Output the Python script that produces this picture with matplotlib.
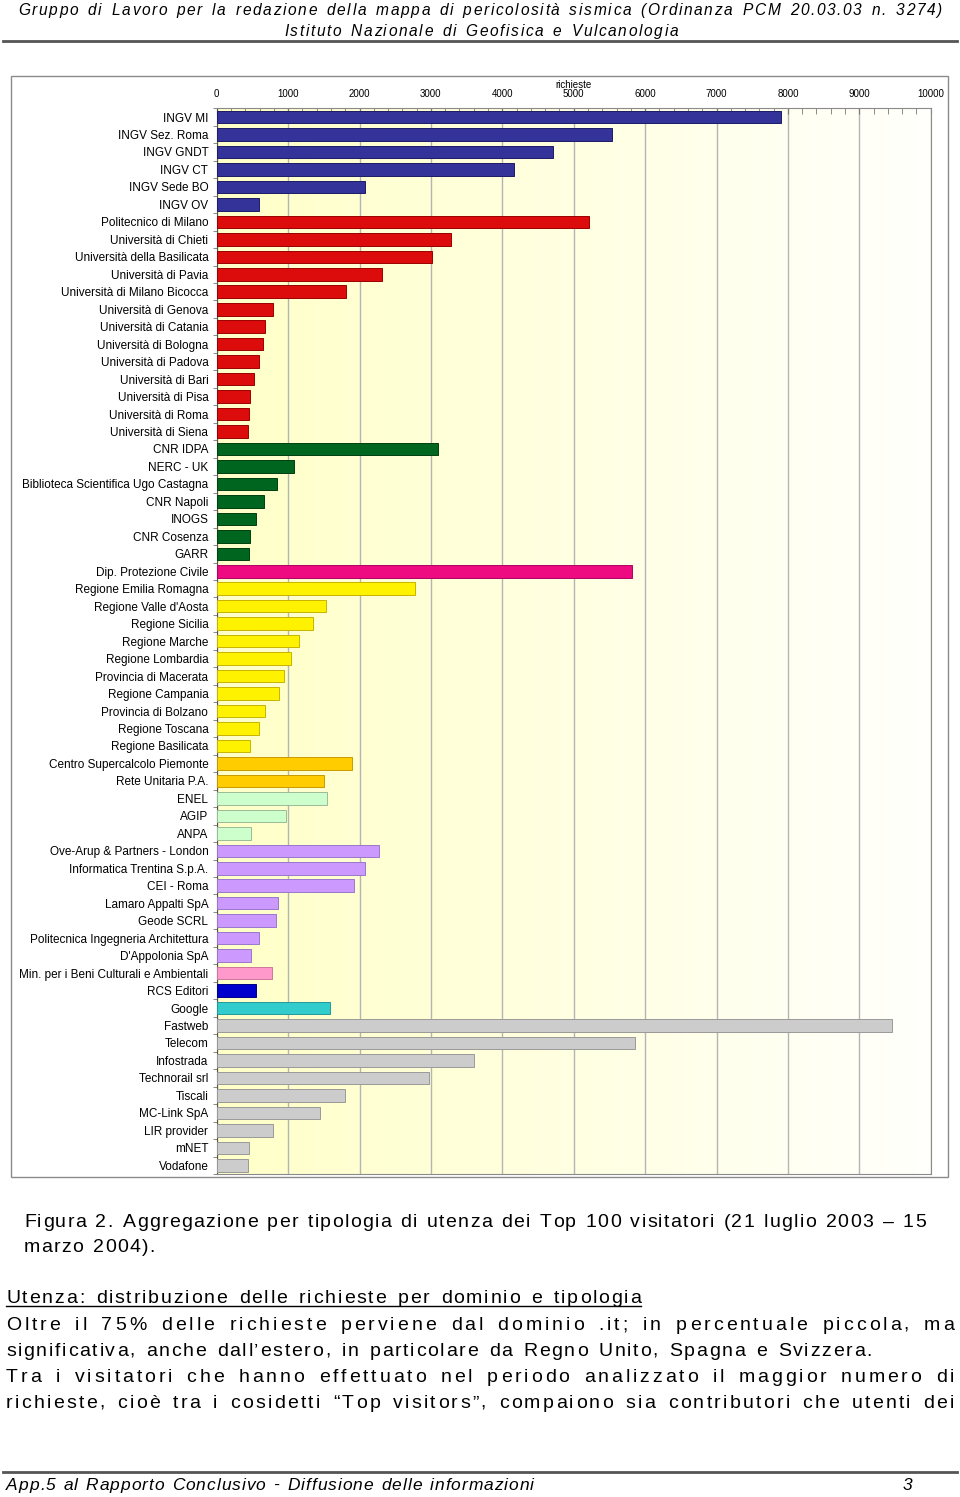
import numpy as np
import matplotlib
matplotlib.use('Agg')
import matplotlib.pyplot as plt
from matplotlib.patches import Rectangle
from matplotlib.lines import Line2D
from matplotlib.font_manager import FontProperties, findfont, get_font

W, H = 960, 1497

categories = ['INGV MI', 'INGV Sez. Roma', 'INGV GNDT', 'INGV CT', 'INGV Sede BO', 'INGV OV',
              'Politecnico di Milano', 'Università di Chieti', 'Università della Basilicata',
              'Università di Pavia', 'Università di Milano Bicocca', 'Università di Genova',
              'Università di Catania', 'Università di Bologna', 'Università di Padova',
              'Università di Bari', 'Università di Pisa', 'Università di Roma', 'Università di Siena',
              'CNR IDPA', 'NERC - UK', 'Biblioteca Scientifica Ugo Castagna', 'CNR Napoli', 'INOGS',
              'CNR Cosenza', 'GARR',
              'Dip. Protezione Civile',
              'Regione Emilia Romagna', "Regione Valle d'Aosta", 'Regione Sicilia', 'Regione Marche',
              'Regione Lombardia', 'Provincia di Macerata', 'Regione Campania', 'Provincia di Bolzano',
              'Regione Toscana', 'Regione Basilicata',
              'Centro Supercalcolo Piemonte', 'Rete Unitaria P.A.',
              'ENEL', 'AGIP', 'ANPA',
              'Ove-Arup & Partners - London', 'Informatica Trentina S.p.A.', 'CEI - Roma',
              'Lamaro Appalti SpA', 'Geode SCRL', 'Politecnica Ingegneria Architettura',
              "D'Appolonia SpA",
              'Min. per i Beni Culturali e Ambientali', 'RCS Editori', 'Google',
              'Fastweb', 'Telecom', 'Infostrada', 'Technorail srl', 'Tiscali', 'MC-Link SpA',
              'LIR provider', 'mNET', 'Vodafone']

requests = [7910, 5540, 4710, 4170, 2080, 590,
            5220, 3280, 3020, 2320, 1810, 790,
            670, 645, 590, 525, 470, 455, 435,
            3100, 1080, 840, 660, 545, 470, 455,
            5820,
            2780, 1535, 1345, 1150, 1035, 940, 870, 680, 590, 470,
            1900, 1500,
            1540, 965, 475,
            2270, 2080, 1920, 855, 830, 590, 475,
            770, 550, 1585,
            9460, 5860, 3600, 2970, 1790, 1445, 790, 450, 440]

groups = ['INGV'] * 6 + ['Università'] * 13 + ['Ricerca'] * 7 + ['Protezione Civile'] + \
         ['Regioni'] * 10 + ['Consorzi'] * 2 + ['Enti'] * 3 + ['Società'] * 7 + \
         ['Ministero', 'Editoria', 'Motori'] + ['Provider'] * 9

colors = {'INGV': ('#333399', '#1c1c66'), 'Università': ('#dc0c0c', '#990000'),
          'Ricerca': ('#00661f', '#004010'), 'Protezione Civile': ('#ee0a80', '#b00060'),
          'Regioni': ('#fff200', '#c8b400'), 'Consorzi': ('#ffcc00', '#c89a00'),
          'Enti': ('#ccffcc', '#99bb99'), 'Società': ('#cc99ff', '#9977cc'),
          'Ministero': ('#ff99cc', '#cc7799'), 'Editoria': ('#0000cc', '#000088'),
          'Motori': ('#33cccc', '#229999'), 'Provider': ('#cccccc', '#999999')}

FONT = ['Liberation Sans', 'DejaVu Sans']
plt.rcParams['font.family'] = FONT


def fx(x):
    return x / W


def fy(y):
    return 1 - y / H


fig = plt.figure(figsize=(W / 100, H / 100), dpi=100)


def text_line(s, x0, x1, base, size, style='normal'):
    # letter-spaced line spanning x0..x1, as on the scanned page
    prop = FontProperties(family='Liberation Sans', style=style, size=size)
    font = get_font(findfont(prop))
    font.set_size(size, 100)
    adv = [font.load_char(ord(c)).linearHoriAdvance / 65536 for c in s]
    weights = [1.6 if (s[i] == ' ' or s[i + 1] == ' ') else 1.0 for i in range(len(s) - 1)]
    extra = (x1 - x0) - sum(adv)
    unit = extra / sum(weights)
    x = x0
    for i, c in enumerate(s):
        if c != ' ':
            fig.text(fx(x), fy(base), c, fontsize=size, style=style, va='baseline', ha='left')
        if i < len(s) - 1:
            x += adv[i] + unit * weights[i]


# header
text_line('Gruppo di Lavoro per la redazione della mappa di pericolosità sismica (Ordinanza PCM 20.03.03 n. 3274)',
          18, 942, 15, 11.2, style='italic')
text_line('Istituto Nazionale di Geofisica e Vulcanologia', 284, 678, 36, 11.2, style='italic')
fig.add_artist(Line2D([fx(3), fx(957)], [fy(41), fy(41)], color='#555555', lw=2))

# chart frame
fig.add_artist(Rectangle((fx(11), fy(1177)), (948 - 11) / W, (1177 - 76) / H, transform=fig.transFigure,
                         fill=False, edgecolor='#8a8a8a', lw=1))

ax = fig.add_axes([fx(216.7), fy(1174), (930.7 - 216.7) / W, (1174 - 108.3) / H])
n = len(categories)
ypos = np.arange(n)

grad = np.ones((2, 256, 3))
grad[:, :, 2] = np.linspace(200, 252, 256)[None, :] / 255
ax.imshow(grad, extent=(0, 10000, n - 0.5, -0.5), aspect='auto', zorder=0, interpolation='bilinear')

ax.barh(ypos, requests, height=0.72, color=[colors[g][0] for g in groups],
        edgecolor=[colors[g][1] for g in groups], linewidth=0.7, zorder=3)

ax.set_xlim(0, 10000)
ax.set_ylim(n - 0.5, -0.5)
ax.xaxis.tick_top()
ax.xaxis.set_label_position('top')
ax.set_xticks(np.arange(0, 10001, 1000))
ax.set_xticks(np.arange(0, 10001, 200), minor=True)
ax.tick_params(axis='x', which='both', direction='in', length=4, color='#777777', labelsize=7, pad=7)
ax.set_xlabel('richieste', fontsize=7, labelpad=0.5)
ax.grid(axis='x', which='major', color='#b4b4b4', lw=1)
ax.set_axisbelow(True)

ax.set_yticks(ypos)
ax.set_yticklabels(categories, fontsize=8.5)
ax.set_yticks(np.arange(-0.5, n), minor=True)
ax.tick_params(axis='y', which='major', length=0, pad=6)
ax.tick_params(axis='y', which='minor', length=3, direction='out', color='#777777')
for side in ['top', 'right', 'bottom']:
    ax.spines[side].set_color('#8a8a8a')
ax.spines['left'].set_color('#555555')

# caption and body text
text_line('Figura 2. Aggregazione per tipologia di utenza dei Top 100 visitatori (21 luglio 2003 – 15',
          24, 926, 1227, 14)
text_line('marzo 2004).', 24, 155, 1252, 14)
text_line('Utenza: distribuzione delle richieste per dominio e tipologia', 6, 641, 1303, 14)
fig.add_artist(Line2D([fx(6), fx(641)], [fy(1306), fy(1306)], color='black', lw=1))
text_line('Oltre il 75% delle richieste perviene dal dominio .it; in percentuale piccola, ma',
          6, 954, 1330, 14)
text_line('significativa, anche dall’estero, in particolare da Regno Unito, Spagna e Svizzera.',
          6, 872, 1356, 14)
text_line('Tra i visitatori che hanno effettuato nel periodo analizzato il maggior numero di',
          6, 954, 1382, 14)
text_line('richieste, cioè tra i cosidetti “Top visitors”, compaiono sia contributori che utenti dei',
          6, 954, 1408, 14)

# footer
fig.add_artist(Line2D([fx(3), fx(957)], [fy(1472), fy(1472)], color='#555555', lw=2))
text_line('App.5 al Rapporto Conclusivo - Diffusione delle informazioni', 6, 534, 1490, 12.5, style='italic')
fig.text(fx(903), fy(1490), '3', fontsize=12.5, style='italic', va='baseline', ha='left')

fig.savefig('out.png', dpi=100)
